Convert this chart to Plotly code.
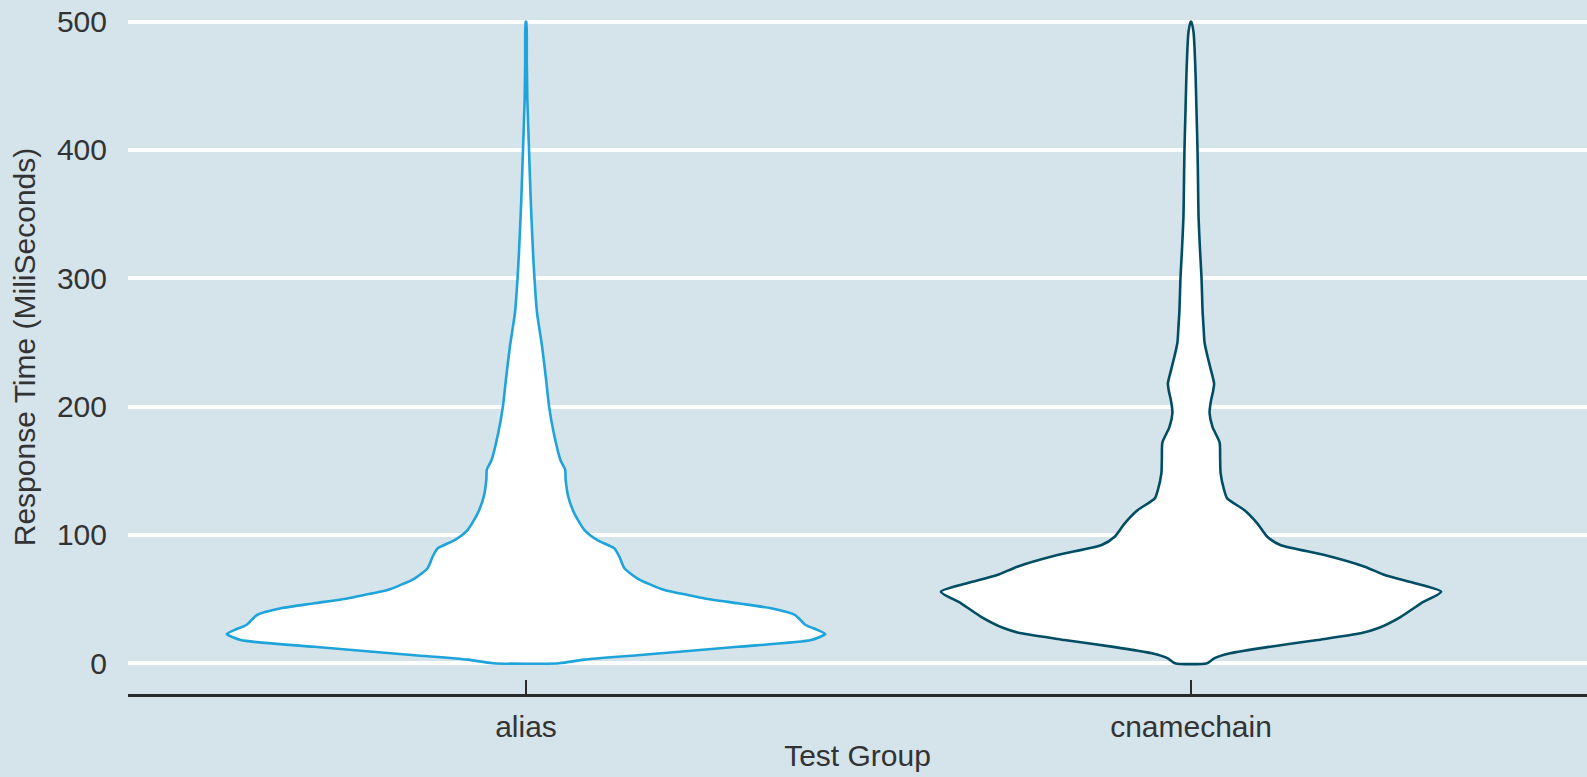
import plotly.graph_objects as go

# ---- data ----
categories = ["alias", "cnamechain"]

# response time levels (ms) and relative density (violin half-width) for each group
alias_y = [0, 2.8, 6.2, 12.8, 18, 22.8, 26, 30, 37.5, 42.8, 46.7, 50.5, 53.2, 57,
           66, 74, 83, 89.5, 96, 104, 117, 130, 143, 151, 158, 180, 200, 221, 247,
           273, 299, 320, 361, 400, 440, 470, 500]
alias_density = [33, 58, 111, 211, 284, 298, 290, 278, 268, 244, 211, 178, 161, 138,
                 111, 98, 93, 88, 71, 58, 48, 42, 39.5, 39, 34.5, 27.5, 23, 20, 16,
                 11, 8.5, 7, 4.7, 3, 1.3, 0.8, 0.3]

cname_y = [0, 3.8, 7.7, 12.9, 18.1, 23.3, 27.2, 36.2, 46.7, 55.7, 62.3, 68.7, 75.2,
           84.3, 92.1, 98.6, 109, 119.4, 128.5, 135, 148, 160, 172, 184, 195, 205, 212,
           218, 228, 239, 250, 262, 275, 300, 322, 348, 375, 400, 430, 460, 480, 492, 500]
cname_density = [16, 23, 39, 79, 126, 169, 186, 209, 229, 249, 223, 193, 173,
                 133, 89, 76, 66, 53, 36, 33, 29.5, 29, 28.5, 21.5, 18.5, 20, 22,
                 23, 20, 16.5, 13.5, 12.5, 11.5, 10.5, 9, 7.5, 7, 6.5, 5.5, 4.5, 3.5, 2.5, 0.2]

y_ticks = [0, 100, 200, 300, 400, 500]

# ---- styling ----
BG = "#d5e4eb"
TEXT = "#333333"
FONT = "Liberation Sans, Arial, Helvetica, sans-serif"
colors = ["#1ea3da", "#014d64"]
violin_width = 0.9

groups = [(alias_y, alias_density), (cname_y, cname_density)]
max_density = max(max(d) for _, d in groups)
scale = (violin_width / 2) / max_density

fig = go.Figure()
for i, ((ys, dens), col, name) in enumerate(zip(groups, colors, categories)):
    pos = i + 1
    right_x = [pos + d * scale for d in dens]
    left_x = [pos - d * scale for d in reversed(dens)]
    xs = right_x + left_x + [right_x[0]]
    yy = list(ys) + list(reversed(ys)) + [ys[0]]
    fig.add_trace(go.Scatter(
        x=xs, y=yy, mode="lines", fill="toself", fillcolor="white",
        line=dict(color=col, width=2.6, shape="spline", smoothing=0.6),
        name=name, showlegend=False, hoverinfo="skip",
    ))

fig.update_layout(
    width=1587, height=777, autosize=False,
    margin=dict(l=128, r=0, t=0, b=83, pad=0),
    paper_bgcolor=BG, plot_bgcolor=BG,
    font=dict(family=FONT, size=30, color=TEXT),
    showlegend=False,
)
fig.update_xaxes(
    range=[0.4015, 2.5955],
    tickmode="array", tickvals=[1, 2], ticktext=categories,
    showgrid=False, zeroline=False,
    showline=True, linecolor="#2b2b2b", linewidth=2.5,
    ticks="inside", ticklen=14, tickwidth=1.8, tickcolor="#2b2b2b",
    tickfont=dict(family=FONT, size=30, color=TEXT),
    ticklabelstandoff=4,
    title=dict(text="Test Group", font=dict(family=FONT, size=30, color=TEXT), standoff=4),
    automargin=False,
)
fig.update_yaxes(
    range=[-24.0, 516.9],
    tickmode="array", tickvals=y_ticks, ticktext=[str(v) for v in y_ticks],
    showgrid=True, gridcolor="white", gridwidth=3.5,
    zeroline=False, showline=False, ticks="",
    tickfont=dict(family=FONT, size=30, color=TEXT),
    ticklabelstandoff=20,
    title=dict(text="Response Time (MiliSeconds)", font=dict(family=FONT, size=30, color=TEXT), standoff=12),
    automargin=False,
)

fig.write_html("out.html")
